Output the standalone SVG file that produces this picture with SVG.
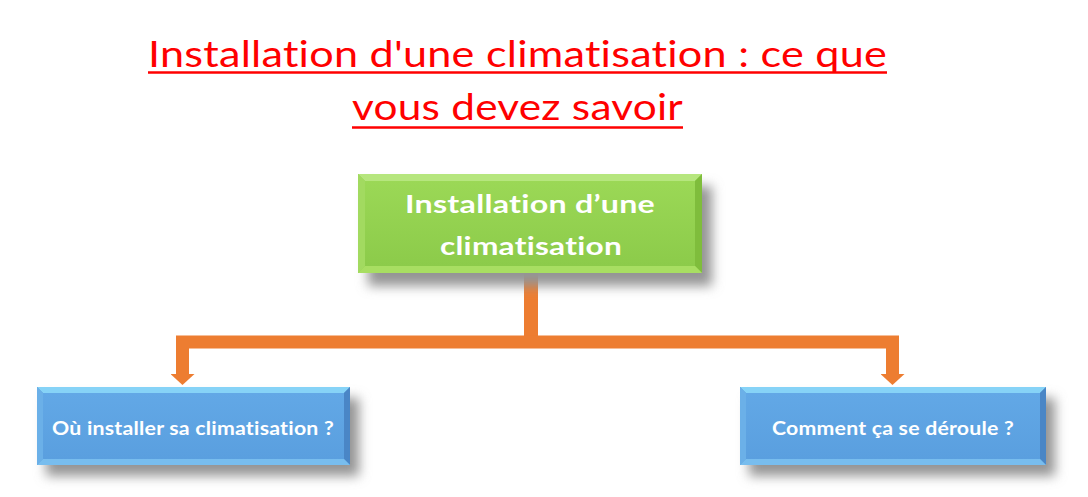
<svg xmlns="http://www.w3.org/2000/svg" width="1088" height="497" viewBox="0 0 1088 497">
<defs>
  <style>
    .title, .lbl{font-variant-ligatures:none;font-feature-settings:"liga" 0,"clig" 0,"dlig" 0;letter-spacing:0.2px;}
    .title{font-family:Lato,"Liberation Sans",sans-serif;font-size:36px;fill:#FF0000;}
    .ul{stroke:#FF0000;stroke-width:2.5;}
    .lbl{font-family:Lato,"Liberation Sans",sans-serif;font-weight:bold;fill:#FFFFFF;text-anchor:middle;}
    .conn{fill:none;stroke:#ED7D31;stroke-linejoin:miter;}
    .shadow{fill:#949494;filter:url(#blur);}
  </style>
  <filter id="blur" x="-20%" y="-50%" width="140%" height="200%">
    <feGaussianBlur stdDeviation="6"/>
  </filter>
  <linearGradient id="gFace" x1="0" y1="0" x2="0" y2="1">
    <stop offset="0" stop-color="#9BD856"/>
    <stop offset="1" stop-color="#8CCB4A"/>
  </linearGradient>
  <linearGradient id="bFace" x1="0" y1="0" x2="0" y2="1">
    <stop offset="0" stop-color="#62A8E6"/>
    <stop offset="1" stop-color="#5A9FDF"/>
  </linearGradient>
  <marker id="arr" viewBox="0 0 12 24" markerUnits="userSpaceOnUse" markerWidth="12" markerHeight="24" refX="0" refY="12" orient="auto-start-reverse">
    <path d="M0,0 L11,12 L0,24 Z" fill="#ED7D31"/>
  </marker>
</defs>
<rect width="1088" height="497" fill="#FFFFFF"/>

<g id="title">
  <text class="title" x="148" y="67" textLength="739" lengthAdjust="spacingAndGlyphs">Installation d'une climatisation : ce que</text>
  <line class="ul" x1="148" y1="72.5" x2="887" y2="72.5"/>
  <text class="title" x="352" y="120" textLength="331" lengthAdjust="spacingAndGlyphs">vous devez savoir</text>
  <line class="ul" x1="352" y1="127.5" x2="683" y2="127.5"/>
</g>

<g id="connectors">
  <path class="conn" stroke-width="14" d="M531,272 V342"/>
  <path class="conn" stroke-width="13" d="M182.5,374 V342 H892.5 V374" marker-start="url(#arr)" marker-end="url(#arr)"/>
</g>

<g id="node-root">
  <rect class="shadow" x="368" y="186" width="344" height="100"/>
  <rect x="358" y="174" width="344" height="99" fill="#92D050"/>
  <polygon points="358,174 702,174 695,181 365,181" fill="#B6E67E"/>
  <polygon points="358,174 365,181 365,266 358,273" fill="#A2DA60"/>
  <polygon points="702,174 702,273 695,266 695,181" fill="#7FBD3C"/>
  <polygon points="358,273 365,266 695,266 702,273" fill="#A8DE62"/>
  <rect x="365" y="181" width="330" height="85" fill="url(#gFace)"/>
  <text class="lbl" x="530" y="213" font-size="25" textLength="250" lengthAdjust="spacingAndGlyphs">Installation d’une</text>
  <text class="lbl" x="531" y="255" font-size="25" textLength="182" lengthAdjust="spacingAndGlyphs">climatisation</text>
</g>

<g id="node-left">
  <rect class="shadow" x="46" y="398" width="313" height="78"/>
  <rect x="37" y="387" width="313" height="78" fill="#5B9BD5"/>
  <polygon points="37,387 350,387 344,393 43,393" fill="#86D3F7"/>
  <polygon points="37,387 43,393 43,459 37,465" fill="#6BB0E8"/>
  <polygon points="350,387 350,465 344,459 344,393" fill="#4A86C6"/>
  <polygon points="37,465 43,459 344,459 350,465" fill="#78BDEE"/>
  <rect x="43" y="393" width="301" height="66" fill="url(#bFace)"/>
  <text class="lbl" x="193" y="434.5" font-size="19" textLength="282" lengthAdjust="spacingAndGlyphs">Où installer sa climatisation ?</text>
</g>

<g id="node-right">
  <rect class="shadow" x="749" y="398" width="306" height="78"/>
  <rect x="740" y="387" width="306" height="78" fill="#5B9BD5"/>
  <polygon points="740,387 1046,387 1040,393 746,393" fill="#86D3F7"/>
  <polygon points="740,387 746,393 746,459 740,465" fill="#6BB0E8"/>
  <polygon points="1046,387 1046,465 1040,459 1040,393" fill="#4A86C6"/>
  <polygon points="740,465 746,459 1040,459 1046,465" fill="#78BDEE"/>
  <rect x="746" y="393" width="294" height="66" fill="url(#bFace)"/>
  <text class="lbl" x="893" y="434.5" font-size="19" textLength="242" lengthAdjust="spacingAndGlyphs">Comment ça se déroule ?</text>
</g>
</svg>
